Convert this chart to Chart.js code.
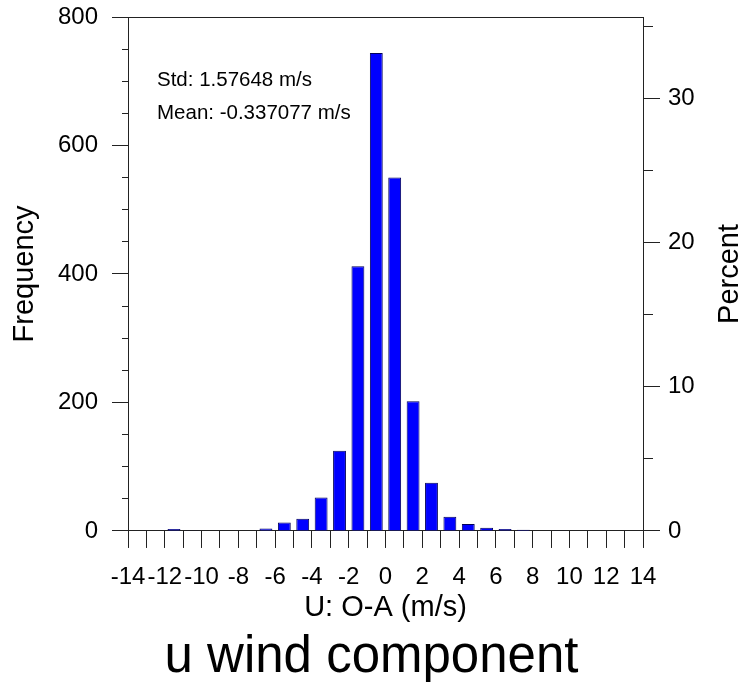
<!DOCTYPE html>
<html>
<head>
<meta charset="utf-8">
<title>u wind component</title>
<script src="https://cdn.jsdelivr.net/npm/chart.js@4.4.1/dist/chart.umd.min.js"></script>
<style>
  html, body { margin: 0; padding: 0; background: #fff; }
  canvas { display: block; }
</style>
</head>
<body>
<canvas id="histChart" width="743" height="682"></canvas>
<script>
// O-A histogram, 1 m/s bins (only non-empty bins listed)
const binCenters = [-11.5, -10.5, -6.5, -5.5, -4.5, -3.5, -2.5, -1.5, -0.5, 0.5, 1.5, 2.5, 3.5, 4.5, 5.5, 6.5, 7.5, 9.5];
const binCounts  = [3, 1, 4, 13, 19, 52, 125, 412, 744, 550, 202, 75, 22, 11, 5, 3, 2, 1];

// axis ranges
const xRange = [-14, 14];
const freqRange = [0, 800];

// text
const statLines = ['Std: 1.57648 m/s', 'Mean: -0.337077 m/s'];
const xTitle = 'U: O-A (m/s)';
const yTitle = 'Frequency';
const y2Title = 'Percent';
const plotTitle = 'u wind component';

const totalCount = binCounts.reduce((a, b) => a + b, 0);
const pctMax = freqRange[1] / totalCount * 100;

const FONT = '"Liberation Sans", Arial, Helvetica, sans-serif';
const AXIS = '#222';

Chart.defaults.font.family = FONT;
Chart.defaults.color = '#000';

// labels on the end ticks may hang over the frame; don't let them shrink the plot
function noEdgePadding(scale) {
  scale.paddingTop = 0;
  scale.paddingBottom = 0;
  scale.paddingLeft = 0;
  scale.paddingRight = 0;
}

// free text: stats in the corner and the right-hand axis title (reads bottom-up)
const extraText = {
  id: 'extraText',
  afterDraw(chart) {
    const { ctx, chartArea } = chart;
    ctx.save();
    ctx.fillStyle = '#000';
    ctx.textBaseline = 'middle';
    ctx.textAlign = 'left';
    ctx.font = '20.5px ' + FONT;
    ctx.fillText(statLines[0], chartArea.left + 29, 80);
    ctx.fillText(statLines[1], chartArea.left + 29, 113);

    ctx.font = '29px ' + FONT;
    ctx.textAlign = 'center';
    ctx.translate(730, (chartArea.top + chartArea.bottom) / 2);
    ctx.rotate(-Math.PI / 2);
    ctx.fillText(y2Title, 0, 0);
    ctx.restore();
  }
};

const ctx = document.getElementById('histChart').getContext('2d');
new Chart(ctx, {
  type: 'bar',
  data: {
    datasets: [{
      data: binCenters.map((c, i) => ({ x: c, y: binCounts[i] })),
      backgroundColor: '#0000ff',
      borderColor: '#00005a',
      borderWidth: 1,
      borderSkipped: 'start',
      categoryPercentage: 1.0,
      barPercentage: 0.7,
      xAxisID: 'x',
      yAxisID: 'y'
    }]
  },
  options: {
    responsive: false,
    animation: false,
    layout: { padding: { top: 17, left: 0, right: 0, bottom: 0 } },
    plugins: {
      legend: { display: false },
      tooltip: { enabled: false },
      title: {
        display: true,
        position: 'bottom',
        text: plotTitle,
        color: '#000',
        font: { size: 51, weight: 'normal', lineHeight: 0.94 },
        padding: 0
      }
    },
    scales: {
      x: {
        type: 'linear',
        position: 'bottom',
        min: xRange[0],
        max: xRange[1],
        offset: false,
        grid: {
          offset: false,
          drawOnChartArea: false,
          drawTicks: true,
          tickLength: 17,
          tickColor: AXIS,
          tickWidth: 1
        },
        border: { display: true, color: AXIS, width: 1 },
        ticks: {
          stepSize: 1,
          autoSkip: false,
          maxRotation: 0,
          padding: 15,
          font: { size: 24 },
          callback: v => (v % 2 === 0 ? String(v) : '')
        },
        title: {
          display: true,
          text: xTitle,
          font: { size: 29 },
          padding: { top: 0, bottom: 9 }
        },
        afterFit(scale) {
          scale.height = 103.1;
          noEdgePadding(scale);
        }
      },
      xTop: {
        type: 'linear',
        position: 'top',
        min: xRange[0],
        max: xRange[1],
        offset: false,
        grid: { offset: false, drawOnChartArea: false, drawTicks: false },
        border: { display: true, color: AXIS, width: 1 },
        ticks: { display: false }
      },
      y: {
        type: 'linear',
        position: 'left',
        min: freqRange[0],
        max: freqRange[1],
        grid: {
          drawOnChartArea: false,
          tickLength: 16,
          tickColor: AXIS,
          tickWidth: 1,
          // minor ticks: only the inner 6px of the tick is drawn
          tickBorderDash: c => (c.tick && c.tick.value % 200 !== 0 ? [0, 10, 6, 0] : [])
        },
        border: { display: true, color: AXIS, width: 1 },
        ticks: {
          stepSize: 50,
          autoSkip: false,
          padding: 14,
          font: { size: 24 },
          callback: v => (v % 200 === 0 ? String(v) : '')
        },
        title: {
          display: true,
          text: yTitle,
          font: { size: 29 },
          padding: { top: 8, bottom: 0 }
        },
        afterFit(scale) {
          scale.width = 128;
          noEdgePadding(scale);
        }
      },
      y1: {
        type: 'linear',
        position: 'right',
        min: 0,
        max: pctMax,
        grid: {
          drawOnChartArea: false,
          tickLength: 17,
          tickColor: AXIS,
          tickWidth: 1,
          // minor ticks: only the first 9px next to the axis
          tickBorderDash: c => (c.tick && c.tick.value % 10 !== 0 ? [9, 40] : [])
        },
        border: { display: true, color: AXIS, width: 1 },
        ticks: {
          stepSize: 5,
          includeBounds: false,
          autoSkip: false,
          padding: 8,
          font: { size: 24 },
          callback: v => (v % 10 === 0 ? String(v) : '')
        },
        afterFit(scale) {
          scale.width = 100;
          noEdgePadding(scale);
        }
      }
    }
  },
  plugins: [extraText]
});
</script>
</body>
</html>
